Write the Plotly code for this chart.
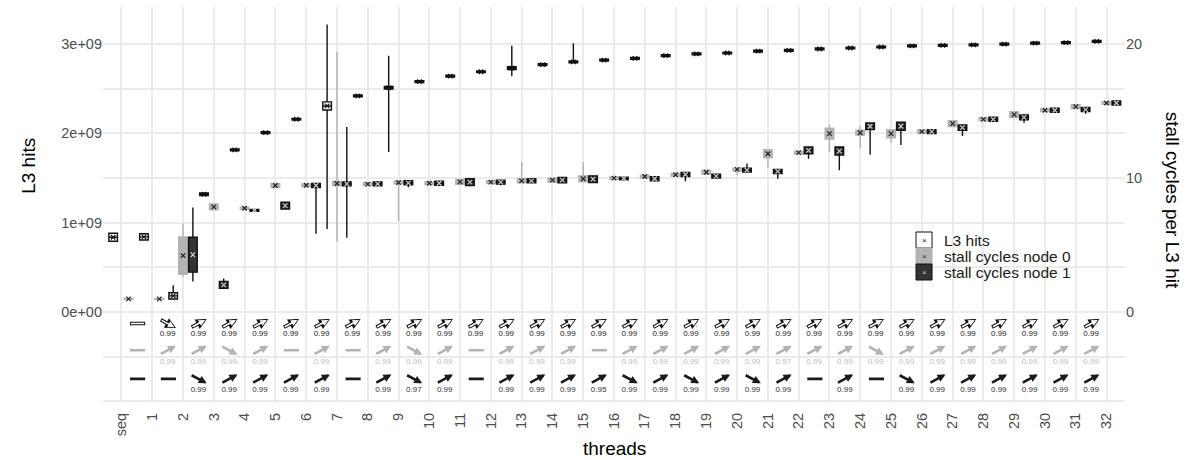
import plotly.graph_objects as go

# ---------------- data ----------------
categories = ['seq'] + [str(i) for i in range(1, 33)]

# L3 hits (units of 1e9) : centre, half-height of body, tail extents
l3_mean = [0.836, 0.84, 0.18, 1.318, 1.814, 2.008, 2.158, 2.307, 2.42, 2.51, 2.58, 2.64,
           2.69, 2.73, 2.77, 2.80, 2.82, 2.84, 2.87, 2.89, 2.90, 2.92, 2.93, 2.945, 2.956,
           2.967, 2.98, 2.986, 2.99, 3.00, 3.01, 3.016, 3.03]
l3_body = [0.045, 0.035, 0.035, 0.015, 0.01, 0.01, 0.01, 0.045, 0.01, 0.015, 0.01, 0.01,
           0.01, 0.015, 0.01, 0.01, 0.01, 0.01, 0.01, 0.01, 0.01, 0.01, 0.01, 0.01,
           0.01, 0.01, 0.01, 0.01, 0.01, 0.01, 0.01, 0.01, 0.01]
l3_min = [None, None, None, None, None, None, None, 0.93, None, 1.79, None, None,
          None, 2.64, None, None, None, None, None, None, None, None, None, None,
          None, None, None, None, None, None, None, None, None]
l3_max = [None, None, 0.30, None, None, None, None, 3.22, None, 2.87, None, None,
          None, 2.98, None, 3.01, None, None, None, None, None, None, None, None,
          None, None, None, None, None, None, None, None, None]

# stall cycles per L3 hit, node 0
n0_mean = [0.97, 0.97, 4.2, 7.84, 7.74, 9.44, 9.46, 9.59, 9.54, 9.66, 9.61, 9.71, 9.69,
           9.79, 9.84, 9.94, 9.99, 10.11, 10.24, 10.43, 10.64, 11.81, 11.89, 13.31, 13.38,
           13.31, 13.46, 14.06, 14.38, 14.73, 15.06, 15.33, 15.6]
n0_body = [0.03, 0.03, 1.4, 0.22, 0.07, 0.15, 0.1, 0.15, 0.1, 0.1, 0.1, 0.18, 0.1,
           0.15, 0.15, 0.22, 0.08, 0.1, 0.1, 0.15, 0.1, 0.3, 0.1, 0.4, 0.18,
           0.3, 0.1, 0.22, 0.1, 0.22, 0.1, 0.15, 0.1]
n0_min = [None, None, 2.6, None, None, None, None, 5.24, None, 6.76, None, None, None,
          None, None, None, None, None, None, None, 10.2, 10.76, None, 11.96, 12.26,
          12.64, None, None, None, None, None, None, None]
n0_max = [None, None, 6.6, None, None, None, None, 19.4, None, None, None, None, None,
          11.2, None, 11.18, None, None, None, None, None, None, None, 14.0, 13.88,
          None, None, None, None, None, None, None, None]

# stall cycles per L3 hit, node 1
n1_mean = [None, None, 4.27, 2.02, 7.59, 7.94, 9.44, 9.56, 9.56, 9.64, 9.61, 9.69, 9.69,
           9.79, 9.84, 9.91, 9.96, 9.94, 10.26, 10.14, 10.59, 10.49, 12.06, 12.01, 13.86,
           13.86, 13.46, 13.76, 14.38, 14.53, 15.06, 15.11, 15.6]
n1_body = [None, None, 1.3, 0.25, 0.07, 0.25, 0.15, 0.15, 0.15, 0.15, 0.15, 0.25, 0.15,
           0.15, 0.2, 0.25, 0.1, 0.15, 0.15, 0.15, 0.15, 0.15, 0.25, 0.3, 0.25,
           0.3, 0.15, 0.2, 0.15, 0.18, 0.15, 0.15, 0.15]
n1_min = [None, None, 2.27, None, None, None, 5.84, 5.54, None, 9.3, None, None, 9.45,
          None, None, None, None, None, 9.76, None, None, 9.94, 11.44, 10.58, 11.76,
          12.46, None, 13.13, None, 14.13, None, 14.8, None]
n1_max = [None, None, 7.8, 2.5, None, None, None, 13.8, None, None, None, None, None,
          None, None, None, None, None, 10.46, None, 11.09, None, None, None, None,
          None, None, None, None, None, None, None, None]

# trend between consecutive thread counts: +1 up, -1 down, 0 flat ; correlation label
l3_trend = [0, -1] + [1] * 30
l3_r = [None] + [0.99] * 31
n0_trend = [0, 1, 1, -1, 1, 0, 1, 0, 1, -1, 1, 0, 1, 1, 1, 0,
            1, 1, 1, 1, 1, 1, 1, 1, -1, 1, 1, 1, 1, 1, 1, 1]
n0_r = [None, 0.99, 0.99, 0.99, 0.99, None, 0.99, None, 0.99, 0.99, 0.99, None, 0.99, 0.99, 0.99, None,
        0.99, 0.99, 0.99, 0.99, 0.99, 0.97, 0.99, 0.99, 0.99, 0.99, 0.99, 0.99, 0.99, 0.99, 0.99, 0.99]
n1_trend = [0, 0, -1, 1, 1, 1, 1, 0, 1, -1, 1, 0, 1, 1, 1, 1,
            -1, 1, -1, 1, -1, 1, 0, 1, 0, -1, 1, 1, 1, 1, 1, 1]
n1_r = [None, None, 0.99, 0.99, 0.99, 0.99, 0.99, None, 0.99, 0.97, 0.99, None, 0.99, 0.99, 0.99, 0.95,
        0.99, 0.99, 0.99, 0.99, 0.99, 0.99, None, 0.99, None, 0.99, 0.99, 0.99, 0.99, 0.99, 0.99, 0.99]

# ---------------- styling ----------------
SEC = 0.15            # 1 stall cycle <-> 0.15e9 L3 hits on the shared scale
YR = [-1.02, 3.415]
FONT = 'Liberation Sans, Arial, sans-serif'
GRID = '#ebebeb'
C_L3_FILL, C_L3_LINE = 'white', '#111111'
C_N0_FILL, C_N0_LINE = '#b3b3b3', '#b3b3b3'
C_N1_FILL, C_N1_LINE = '#333333', '#111111'

n = len(categories)
pos_l3, pos_n0, pos_n1 = [], [], []
for k in range(n):
    if n1_mean[k] is None:
        pos_l3.append(k - 0.27); pos_n0.append(k + 0.23); pos_n1.append(None)
    else:
        pos_l3.append(k - 0.32); pos_n0.append(k); pos_n1.append(k + 0.32)

fig = go.Figure()


def add_series(xs, mean, body, mn, mx, fill, line, yaxis, xcol):
    idx = [i for i, m in enumerate(mean) if m is not None]
    fig.add_trace(go.Box(
        x=[xs[i] for i in idx],
        q1=[mean[i] - body[i] for i in idx],
        median=[mean[i] for i in idx],
        q3=[mean[i] + body[i] for i in idx],
        lowerfence=[mn[i] if mn[i] is not None else mean[i] - body[i] for i in idx],
        upperfence=[mx[i] if mx[i] is not None else mean[i] + body[i] for i in idx],
        width=0.28, whiskerwidth=0, boxpoints=False,
        fillcolor=fill, line=dict(color=line, width=1.4),
        yaxis=yaxis, showlegend=False, hoverinfo='skip'))
    fig.add_trace(go.Scatter(
        x=[xs[i] for i in idx], y=[mean[i] for i in idx], mode='markers',
        marker=dict(symbol='x-thin', size=4.5, line=dict(width=1.2, color=xcol)),
        yaxis=yaxis, showlegend=False, hoverinfo='skip'))


add_series(pos_l3, l3_mean, l3_body, l3_min, l3_max, C_L3_FILL, C_L3_LINE, 'y', '#111111')
add_series(pos_n0, n0_mean, n0_body, n0_min, n0_max, C_N0_FILL, C_N0_LINE, 'y2', '#222222')
add_series(pos_n1, n1_mean, n1_body, n1_min, n1_max, C_N1_FILL, C_N1_LINE, 'y2', '#cccccc')

# ---------------- trend arrows ----------------
ROWS = [  # (trend, r, arrow y, label y, colour, label colour, hollow)
    (l3_trend, l3_r, -0.13, -0.25, '#111111', '#222222', True),
    (n0_trend, n0_r, -0.43, -0.56, '#b3b3b3', '#bdbdbd', False),
    (n1_trend, n1_r, -0.75, -0.87, '#1a1a1a', '#333333', False),
]
DX, DY = 0.27, 0.05
annotations = []
for trend, rr, ya, yl, col, lcol, hollow in ROWS:
    lx, lt = [], []
    for j, t in enumerate(trend):
        xc = j + 0.5
        x0, x1 = xc - DX, xc + DX
        y0, y1 = ya - DY * t, ya + DY * t
        head = 2 if t != 0 else 0
        base = dict(x=x1, y=y1, ax=x0, ay=y0, xref='x', yref='y', axref='x', ayref='y',
                    text='', showarrow=True, arrowhead=head)
        if hollow:
            annotations.append(dict(base, arrowcolor=col, arrowwidth=3.6, arrowsize=0.6,
                                    standoff=0, startstandoff=0))
            annotations.append(dict(base, arrowcolor='white', arrowwidth=1.6, arrowsize=0.8,
                                    standoff=1.8 if t != 0 else 1.0, startstandoff=1.0))
        else:
            annotations.append(dict(base, arrowcolor=col, arrowwidth=2.6, arrowsize=0.62,
                                    standoff=0, startstandoff=0))
        if rr[j] is not None:
            lx.append(xc); lt.append(f'{rr[j]:.2f}')
    fig.add_trace(go.Scatter(x=lx, y=[yl] * len(lx), mode='text', text=lt,
                             textfont=dict(size=8, color=lcol, family=FONT),
                             showlegend=False, hoverinfo='skip'))

# ---------------- axis titles ----------------
annotations += [
    dict(text='L3 hits', xref='paper', yref='paper', x=-0.073, y=0.60, textangle=-90,
         xanchor='center', yanchor='middle',
         showarrow=False, font=dict(size=19, color='black', family=FONT)),
    dict(text='stall cycles per L3 hit', xref='paper', yref='paper', x=1.046, y=0.513,
         xanchor='center', yanchor='middle',
         textangle=90, showarrow=False, font=dict(size=19, color='black', family=FONT)),
    dict(text='threads', xref='paper', yref='paper', x=0.5, y=-0.114,
         xanchor='center', yanchor='middle',
         showarrow=False, font=dict(size=19, color='black', family=FONT)),
]

# ---------------- legend (drawn inside panel) ----------------
leg_items = [('L3 hits', C_L3_FILL, C_L3_LINE, '#111111'),
             ('stall cycles node 0', C_N0_FILL, C_N0_LINE, '#222222'),
             ('stall cycles node 1', C_N1_FILL, C_N1_LINE, '#cccccc')]
shapes = []
LX0, LX1, LTOP, LH = 0.7955, 0.8112, 0.4318, 0.0404
for i, (lab, fcol, lcol, xcol) in enumerate(leg_items):
    top = LTOP - i * LH
    shapes.append(dict(type='rect', xref='paper', yref='paper', x0=LX0, x1=LX1,
                       y0=top - LH, y1=top, fillcolor=fcol, line=dict(color=lcol, width=1),
                       layer='above'))
    annotations.append(dict(text='×', xref='paper', yref='paper', x=(LX0 + LX1) / 2,
                            y=top - LH / 2, xanchor='center', yanchor='middle',
                            showarrow=False, font=dict(size=8, color=xcol, family=FONT)))
    annotations.append(dict(text=lab, xref='paper', yref='paper', x=0.8209, y=top - LH / 2,
                            xanchor='left', yanchor='middle', showarrow=False,
                            font=dict(size=15.5, color='#1a1a1a', family=FONT)))

fig.update_layout(
    width=1191, height=460,
    margin=dict(l=103, r=66, t=7, b=57),
    plot_bgcolor='white', paper_bgcolor='white',
    showlegend=False, boxmode='overlay',
    font=dict(family=FONT),
    annotations=annotations, shapes=shapes,
    xaxis=dict(range=[-0.6, 32.6], tickmode='array', tickvals=list(range(n)),
               ticktext=categories, tickangle=-90, showgrid=True, gridcolor=GRID,
               gridwidth=1.5, zeroline=False, showline=False, ticks='',
               ticklabelstandoff=6,
               tickfont=dict(size=14.5, color='#4d4d4d', family=FONT)),
    yaxis=dict(range=YR, tickmode='array',
               tickvals=[-1, -0.5, 0, 0.5, 1, 1.5, 2, 2.5, 3],
               ticktext=['', '', '0e+00', '', '1e+09', '', '2e+09', '', '3e+09'],
               showgrid=True, gridcolor=GRID, gridwidth=1.5, zeroline=False,
               showline=False, ticks='',
               tickfont=dict(size=14.5, color='#4d4d4d', family=FONT)),
    yaxis2=dict(range=[YR[0] / SEC, YR[1] / SEC], overlaying='y', side='right',
                tickmode='array', tickvals=[0, 10, 20], showgrid=False, zeroline=False,
                showline=False, ticks='',
                tickfont=dict(size=14.5, color='#4d4d4d', family=FONT)),
)

fig.write_html('out.html')
